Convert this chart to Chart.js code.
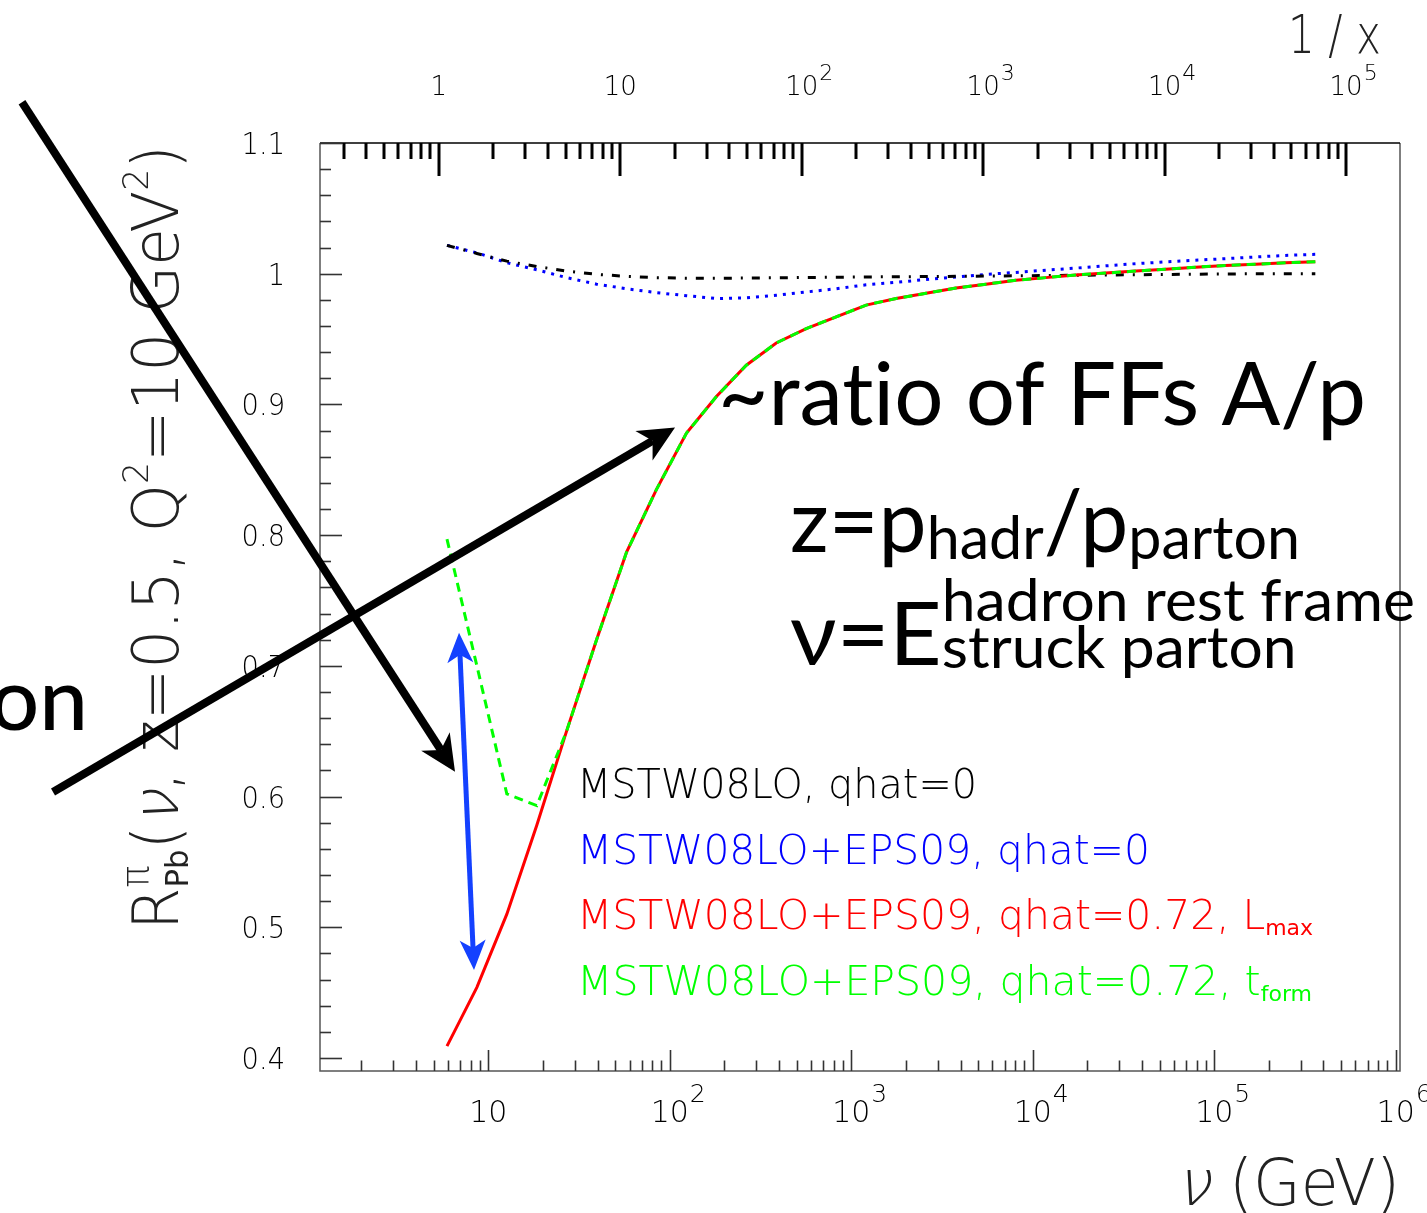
<!DOCTYPE html>
<html>
<head>
<meta charset="utf-8">
<script src="https://cdn.jsdelivr.net/npm/chart.js@4.4.1/dist/chart.umd.min.js"></script>
<style>
  html, body { margin: 0; padding: 0; background: #fff; overflow: hidden; }
  canvas { display: block; }
</style>
</head>
<body>
<canvas id="c" width="1427" height="1213"></canvas>
<script>
// ν grid (GeV) shared by all four curves
const nu = [5.92, 8.65, 12.65, 18.5, 27.0, 39.5, 57.8, 84.5, 123.6, 180.7,
            264, 386, 565, 826, 1208, 1766, 2582, 3776, 5521, 8072,
            11800, 17260, 25230, 36900, 53950, 78890, 115300, 168700, 246600, 360600];

// R_Pb^π for each calculation
const rMSTW = [1.0217, 1.0155, 1.0096, 1.0055, 1.002, 0.9995, 0.998, 0.997, 0.9965, 0.9965,
               0.9967, 0.9969, 0.9971, 0.9973, 0.9975, 0.9977, 0.9978, 0.998, 0.9982, 0.9984,
               0.9986, 0.9988, 0.999, 0.9992, 0.9994, 0.9996, 0.9998, 1.0, 1.0, 1.0];
const rEPS = [1.0217, 1.016, 1.0084, 1.003, 0.997, 0.992, 0.9885, 0.9855, 0.9832, 0.981,
              0.9815, 0.9835, 0.986, 0.9885, 0.9915, 0.9935, 0.9955, 0.9975, 0.9995, 1.001,
              1.0027, 1.0043, 1.006, 1.0077, 1.009, 1.0103, 1.0115, 1.0128, 1.014, 1.0148];
const rLmax = [0.409, 0.454, 0.510, 0.578, 0.650, 0.720, 0.787, 0.835, 0.878, 0.906,
               0.930, 0.947, 0.958, 0.967, 0.976, 0.981, 0.985, 0.989, 0.992, 0.995,
               0.997, 0.999, 1.0005, 1.002, 1.0035, 1.005, 1.0063, 1.0073, 1.0083, 1.0092];
const rTform = [0.797, 0.700, 0.602, 0.593, 0.650, 0.720, 0.787, 0.835, 0.878, 0.906,
                0.930, 0.947, 0.958, 0.967, 0.976, 0.981, 0.985, 0.989, 0.992, 0.995,
                0.997, 0.999, 1.0005, 1.002, 1.0035, 1.005, 1.0063, 1.0073, 1.0083, 1.0092];

const seriesNames = ['MSTW08LO, qhat=0', 'MSTW08LO+EPS09, qhat=0',
                     'MSTW08LO+EPS09, qhat=0.72, L', 'MSTW08LO+EPS09, qhat=0.72, t'];
const seriesSubs = ['', '', 'max', 'form'];

// axis ranges and labelled ticks
const nuRange = [1.182, 1.056e6];
const rRange = [0.39, 1.1];
const rMajor = [0.4, 0.5, 0.6, 0.7, 0.8, 0.9, 1.0, 1.1];
const rLabels = ['0.4', '0.5', '0.6', '0.7', '0.8', '0.9', '1', '1.1'];
const nuMajor = [10, 100, 1e3, 1e4, 1e5, 1e6];
const nuLabels = [['10', ''], ['10', '2'], ['10', '3'], ['10', '4'], ['10', '5'], ['10', '6']];
const invxMajor = [1, 10, 100, 1e3, 1e4, 1e5];
const invxLabels = [['1', ''], ['10', ''], ['10', '2'], ['10', '3'], ['10', '4'], ['10', '5']];

// 1/x = 2 M ν / Q², Q² = 10 GeV²
const protonMass = 0.938, Q2 = 10;
const invxPerNu = 2 * protonMass / Q2;

const AXIS_FONT = '"DejaVu Sans"';
const NOTE_FONT = 'Lato, "Open Sans", sans-serif';
const SLANT = -0.25;

function pts(ys) { return nu.map((v, i) => ({ x: v, y: ys[i] })); }

// mixed-size text run (sub/superscripts), optionally fitted to a width and rotated
function rich(ctx, parts, x, y, o) {
  o = o || {};
  const fam = o.fam || NOTE_FONT;
  const font = p => `${p.w || o.w || 400} ${p.s}px ${p.fam || fam}`;
  const measure = p => { ctx.font = font(p); return ctx.measureText(p.t).width; };
  const adv = parts.map(p => p.stack ? Math.max(...p.stack.map(measure)) : measure(p));
  const total = adv.reduce((a, b) => a + b, 0);
  const sx = o.width ? o.width / total : (o.sx || 1);
  ctx.save();
  ctx.translate(x, y);
  if (o.rot) ctx.rotate(o.rot);
  ctx.scale(sx, 1);
  ctx.fillStyle = o.color || '#000';
  ctx.textAlign = 'left';
  ctx.textBaseline = 'alphabetic';
  let cx = o.align === 'right' ? -total : (o.align === 'center' ? -total / 2 : 0);
  parts.forEach((p, i) => {
    (p.stack || [p]).forEach(q => {
      ctx.font = font(q);
      ctx.save();
      ctx.translate(cx, q.dy || 0);
      if (q.slant) ctx.transform(1, 0, q.slant, 1, 0, 0);
      ctx.fillText(q.t, 0, 0);
      ctx.restore();
    });
    cx += adv[i];
  });
  ctx.restore();
}

// straight arrow with barbed heads
function arrow(ctx, x0, y0, x1, y1, o) {
  const dx = x1 - x0, dy = y1 - y0, len = Math.hypot(dx, dy);
  const ux = dx / len, uy = dy / len, nx = -uy, ny = ux;
  const L = o.head, W = o.half, N = o.notch;
  const head = (tx, ty, sx, sy) => {
    ctx.beginPath();
    ctx.moveTo(tx, ty);
    ctx.lineTo(tx - sx * L + nx * W, ty - sy * L + ny * W);
    ctx.lineTo(tx - sx * (L - N), ty - sy * (L - N));
    ctx.lineTo(tx - sx * L - nx * W, ty - sy * L - ny * W);
    ctx.closePath();
    ctx.fill();
  };
  ctx.save();
  ctx.strokeStyle = o.color; ctx.fillStyle = o.color;
  ctx.lineWidth = o.width; ctx.lineCap = 'butt';
  const s0 = o.both ? (L - N) : 0;
  ctx.beginPath();
  ctx.moveTo(x0 + ux * s0, y0 + uy * s0);
  ctx.lineTo(x1 - ux * (L - N), y1 - uy * (L - N));
  ctx.stroke();
  head(x1, y1, ux, uy);
  if (o.both) head(x0, y0, -ux, -uy);
  ctx.restore();
}

// annotation arrows, placed in (ν, R) coordinates
const pointerArrows = [
  { from: [0.02695, 1.1312], to: [6.555, 0.6189] },
  { from: [0.03995, 0.6035], to: [106.9, 0.8823] }
];
const gapArrow = { from: [6.897, 0.7253], to: [8.341, 0.4672] };

const framePlugin = {
  id: 'rootFrame',
  afterDatasetsDraw(chart) {
    const { ctx, chartArea: a, scales } = chart;
    const xs = scales.x, ys = scales.y, xt = scales.xTop;
    ctx.save();

    // frame
    ctx.lineWidth = 1.5;
    ctx.strokeStyle = '#555';
    ctx.beginPath();
    ctx.moveTo(a.left, a.top); ctx.lineTo(a.left, a.bottom); ctx.lineTo(a.right, a.bottom); ctx.lineTo(a.right, a.top);
    ctx.stroke();
    ctx.strokeStyle = '#000';
    ctx.beginPath(); ctx.moveTo(a.left, a.top); ctx.lineTo(a.right, a.top); ctx.stroke();

    // left ticks (every 0.02)
    ctx.strokeStyle = '#333';
    ctx.lineWidth = 1.6;
    for (let i = 20; i <= 55; i++) {
      const v = i * 0.02, py = Math.round(ys.getPixelForValue(v)) + 0.5;
      const len = (i % 5 === 0) ? 22 : 11;
      ctx.beginPath(); ctx.moveTo(a.left, py); ctx.lineTo(a.left + len, py); ctx.stroke();
    }
    // bottom ticks (ν)
    for (let d = 0; d <= 6; d++) {
      for (let m = 1; m <= 9; m++) {
        const v = m * Math.pow(10, d);
        if (v < nuRange[0] || v > nuRange[1]) continue;
        const px = Math.round(xs.getPixelForValue(v)) + 0.5;
        const len = m === 1 ? 21 : 10.5;
        ctx.beginPath(); ctx.moveTo(px, a.bottom); ctx.lineTo(px, a.bottom - len); ctx.stroke();
      }
    }
    // top ticks (1/x)
    ctx.strokeStyle = '#000';
    ctx.lineWidth = 3;
    for (let d = -1; d <= 5; d++) {
      for (let m = 1; m <= 9; m++) {
        const v = m * Math.pow(10, d);
        if (v < xt.min || v > xt.max) continue;
        const px = Math.round(xt.getPixelForValue(v));
        const len = m === 1 ? 33 : 16;
        ctx.beginPath(); ctx.moveTo(px, a.top); ctx.lineTo(px, a.top + len); ctx.stroke();
      }
    }

    // tick labels
    ctx.fillStyle = '#000';
    rMajor.forEach((v, i) => {
      const py = ys.getPixelForValue(v);
      rich(ctx, [{ t: rLabels[i], s: 31 }], 285, py + 11, { fam: AXIS_FONT, w: 200, align: 'right', sx: 0.88 });
    });
    const decadeLabel = (px, y, lab, s, ss, rise) => {
      ctx.font = `200 ${s}px ${AXIS_FONT}`;
      ctx.textAlign = 'center'; ctx.textBaseline = 'alphabetic';
      ctx.fillText(lab[0], px, y);
      if (lab[1]) {
        const w = ctx.measureText(lab[0]).width;
        ctx.font = `200 ${ss}px ${AXIS_FONT}`;
        ctx.textAlign = 'left';
        ctx.fillText(lab[1], px + w / 2 + 1, y - rise);
      }
    };
    nuMajor.forEach((v, i) => decadeLabel(xs.getPixelForValue(v), 1122, nuLabels[i], 30, 25, 20));
    invxMajor.forEach((v, i) => decadeLabel(xt.getPixelForValue(v), 95, invxLabels[i], 26, 22, 15));

    // axis titles
    rich(ctx, [
      { t: 'R', s: 64 },
      { stack: [{ t: 'π', s: 38, dy: -30 }, { t: 'Pb', s: 32, dy: 10, w: 400 }] },
      { t: '(', s: 64 }, { t: 'ν', s: 64, slant: SLANT }, { t: ', z=0.5, Q', s: 64 },
      { t: '2', s: 36, dy: -30 }, { t: '=10 GeV', s: 64 }, { t: '2', s: 36, dy: -30 }, { t: ')', s: 64 }
    ], 178, 930, { fam: AXIS_FONT, w: 200, rot: -Math.PI / 2, width: 785, color: '#222' });
    rich(ctx, [{ t: 'ν', s: 64, slant: SLANT }, { t: ' (GeV)', s: 64 }], 1175, 1205,
      { fam: AXIS_FONT, w: 200, width: 225, color: '#222' });
    rich(ctx, [{ t: '1 / x', s: 54 }], 1288, 53, { fam: AXIS_FONT, w: 200, width: 93, color: '#222' });

    // legend text
    const legColors = ['#000000', '#0000ff', '#ff0000', '#00ff00'];
    const legWidths = [400, 573, 736, 735];
    seriesNames.forEach((name, i) => {
      const parts = [{ t: name, s: 41 }];
      if (seriesSubs[i]) parts.push({ t: seriesSubs[i], s: 22, dy: 6, w: 400 });
      rich(ctx, parts, 577, 798 + i * 65.7, { fam: AXIS_FONT, w: 200, width: legWidths[i], color: legColors[i] });
    });

    // notes (ZWNJ keeps "t" and "i" as separate glyphs)
    rich(ctx, [{ t: '~rat\u200Cio of FFs A/p', s: 87 }], 718, 425, { width: 648 });
    rich(ctx, [{ t: 'z=p', s: 87 }, { t: 'hadr', s: 60, dy: 7 }, { t: '/p', s: 87 }, { t: 'parton', s: 60, dy: 7 }],
      790, 552, { width: 510 });
    rich(ctx, [{ t: 'ν=E', s: 87 },
      { stack: [{ t: 'hadron rest frame', s: 58, dy: -44 }, { t: 'struck parton', s: 58, dy: 3 }] }],
      790, 665, { width: 625 });
    rich(ctx, [{ t: 'on', s: 87 }], 88, 730, { align: 'right', w: 500 });

    // arrows
    const P = (p) => [xs.getPixelForValue(p[0]), ys.getPixelForValue(p[1])];
    pointerArrows.forEach(ar => {
      const [x0, y0] = P(ar.from), [x1, y1] = P(ar.to);
      arrow(ctx, x0, y0, x1, y1, { color: '#000', width: 8, head: 36, half: 17, notch: 10 });
    });
    {
      const [x0, y0] = P(gapArrow.from), [x1, y1] = P(gapArrow.to);
      arrow(ctx, x0, y0, x1, y1, { color: '#1441ff', width: 5, head: 30, half: 13, notch: 8, both: true });
    }
    ctx.restore();
  }
};

new Chart(document.getElementById('c'), {
  type: 'line',
  data: {
    datasets: [
      { label: seriesNames[3] + seriesSubs[3], data: pts(rTform), borderColor: '#00ff00', borderWidth: 3, borderDash: [9, 6], order: 0 },
      { label: seriesNames[2] + seriesSubs[2], data: pts(rLmax), borderColor: '#ff0000', borderWidth: 3, order: 1 },
      { label: seriesNames[0], data: pts(rMSTW), borderColor: '#000000', borderWidth: 3, borderDash: [8, 9, 2, 9], order: 2 },
      { label: seriesNames[1], data: pts(rEPS), borderColor: '#0000ff', borderWidth: 3, borderDash: [3, 6], order: 3 }
    ]
  },
  options: {
    responsive: false,
    devicePixelRatio: 1,
    animation: false,
    events: [],
    layout: { padding: { left: 320, right: 27, top: 143, bottom: 142 } },
    elements: { point: { radius: 0 }, line: { tension: 0, fill: false, borderCapStyle: 'butt' } },
    plugins: { legend: { display: false }, tooltip: { enabled: false } },
    scales: {
      x: { type: 'logarithmic', min: nuRange[0], max: nuRange[1], display: false },
      xTop: { type: 'logarithmic', position: 'top', min: nuRange[0] * invxPerNu, max: nuRange[1] * invxPerNu, display: false },
      y: { type: 'linear', min: rRange[0], max: rRange[1], display: false }
    }
  },
  plugins: [framePlugin]
});
</script>
</body>
</html>
